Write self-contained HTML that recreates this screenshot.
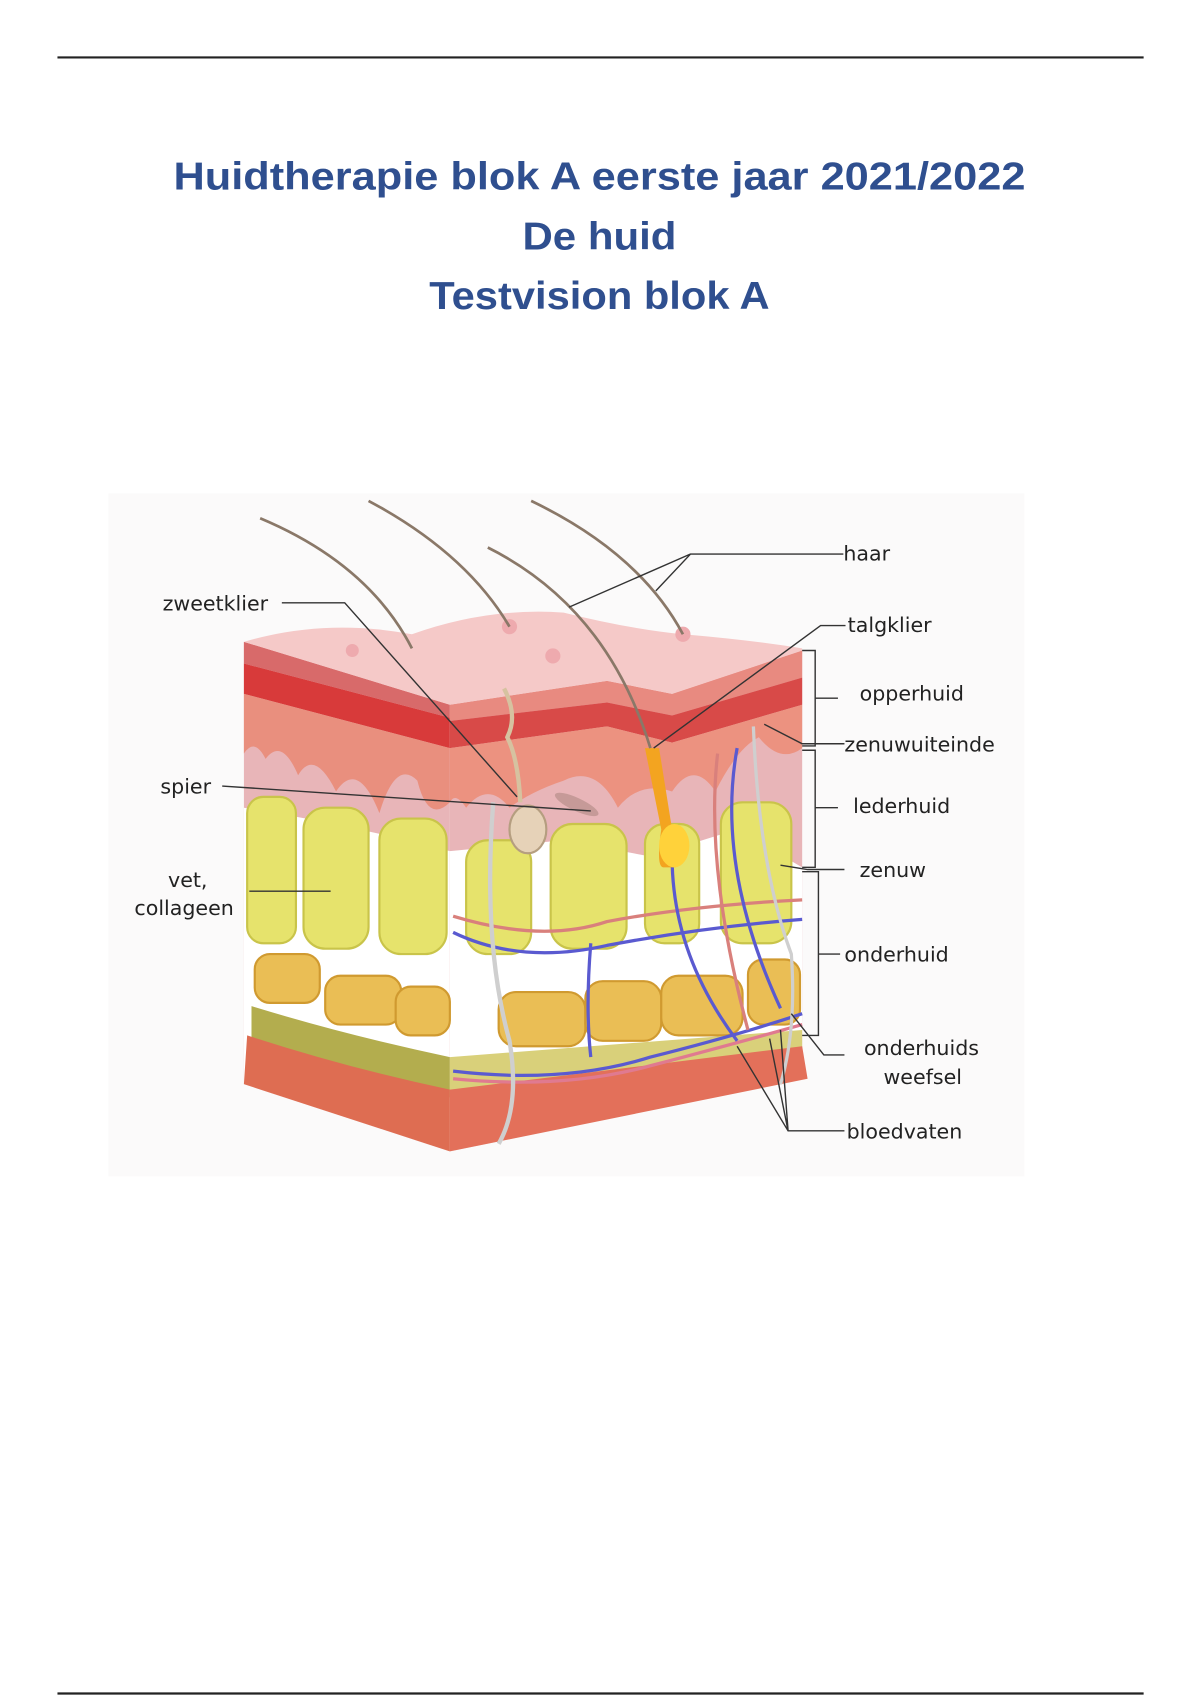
<!DOCTYPE html>
<html><head><meta charset="utf-8"><style>
html,body{margin:0;padding:0;background:#fff}
svg{display:block}
</style></head><body>
<svg width="1200" height="1700" viewBox="0 0 1107 1568" preserveAspectRatio="none" xmlns="http://www.w3.org/2000/svg">
<rect width="1107" height="1568" fill="#fff"/>
<line x1="53" y1="53" x2="1055" y2="53" stroke="#222" stroke-width="2"/>
<line x1="53" y1="1562" x2="1055" y2="1562" stroke="#222" stroke-width="2"/>
<g font-family="Liberation Sans, DejaVu Sans, sans-serif" font-weight="bold" fill="#2f4f8f" text-anchor="middle" font-size="36">
<text x="553" y="175" textLength="786" lengthAdjust="spacingAndGlyphs">Huidtherapie blok A eerste jaar 2021/2022</text>
<text x="553" y="230" textLength="142" lengthAdjust="spacingAndGlyphs">De huid</text>
<text x="553" y="285" textLength="314" lengthAdjust="spacingAndGlyphs">Testvision blok A</text>
</g>
<rect x="100" y="455" width="845" height="630" fill="#fbfafa"/>
<!-- left face -->
<polygon points="225,592 415,650 415,1062 225,1000" fill="#e8b5b8"/>
<path d="M225,745 Q320,760 415,785 L415,1062 L225,1000Z" fill="#ffffff"/>
<path d="M225,612 L415,662 L415,690 L225,640Z" fill="#d83a3a"/>
<path d="M225,592 L415,650 L415,662 L225,612Z" fill="#d86a6a"/>
<path d="M225,640 L415,690 L415,740 Q395,760 385,720 Q365,700 350,750 Q330,700 310,730 Q290,690 275,715 Q260,680 245,700 Q235,680 225,695Z" fill="#e98f7e"/>
<!-- right face -->
<polygon points="415,650 560,628 620,640 740,600 740,995 415,1062" fill="#e8b5b8"/>
<path d="M415,785 L520,775 L600,790 L680,765 L740,800 L740,995 L415,1062Z" fill="#ffffff"/>
<path d="M415,650 L560,628 L620,640 L740,600 L740,625 L620,660 L560,648 L415,665Z" fill="#e88a80"/>
<path d="M415,665 L560,648 L620,660 L740,625 L740,650 L620,685 L560,670 L415,690Z" fill="#d84a48"/>
<path d="M415,690 L560,670 L620,685 L740,650 L740,690 Q720,705 700,680 Q680,690 660,730 Q640,700 620,730 Q590,720 570,745 Q550,705 520,720 Q490,730 470,745 Q450,720 430,745 Q420,730 415,740Z" fill="#ec9280"/>
<!-- top surface -->
<path d="M225,592 Q300,570 380,585 Q450,560 520,565 Q580,580 630,585 Q690,590 740,598 L740,600 L620,640 L560,628 L415,650Z" fill="#f5c9c8"/>
<circle cx="325" cy="600" r="6" fill="#eeaaae"/><circle cx="470" cy="578" r="7" fill="#eeaaae"/><circle cx="510" cy="605" r="7" fill="#eeaaae"/><circle cx="630" cy="585" r="7" fill="#eeaaae"/>
<!-- fat columns -->
<g fill="#e6e36c" stroke="#c9c44a" stroke-width="2">
<rect x="228" y="735" width="45" height="135" rx="15"/>
<rect x="280" y="745" width="60" height="130" rx="20"/>
<rect x="350" y="755" width="62" height="125" rx="20"/>
<rect x="430" y="775" width="60" height="105" rx="20"/>
<rect x="508" y="760" width="70" height="115" rx="20"/>
<rect x="595" y="760" width="50" height="110" rx="18"/>
<rect x="665" y="740" width="65" height="130" rx="20"/>
</g>
<g fill="#eabe55" stroke="#d09a30" stroke-width="2">
<rect x="235" y="880" width="60" height="45" rx="14"/>
<rect x="300" y="900" width="70" height="45" rx="14"/>
<rect x="365" y="910" width="50" height="45" rx="14"/>
<rect x="460" y="915" width="80" height="50" rx="16"/>
<rect x="540" y="905" width="70" height="55" rx="16"/>
<rect x="610" y="900" width="75" height="55" rx="16"/>
<rect x="690" y="885" width="48" height="60" rx="14"/>
</g>
<path d="M232,928 Q320,955 415,975 L415,1012 Q320,990 232,965Z" fill="#b3ad4e"/>
<path d="M415,975 L740,950 L740,985 L415,1012Z" fill="#d9d07a"/>
<!-- muscle -->
<path d="M228,955 Q320,985 415,1005 L415,1062 L225,1000Z" fill="#de6d52"/>
<path d="M415,1005 L740,965 L745,995 L415,1062Z" fill="#e3705a"/>
<!-- vessels -->
<g fill="none" stroke-width="3">
<path d="M418,845 Q500,870 560,850 Q640,835 740,830" stroke="#d9807c"/>
<path d="M418,860 Q480,890 560,872 Q650,855 740,848" stroke="#5a5ad0"/>
<path d="M418,988 Q520,1000 600,975 Q680,955 740,935" stroke="#5a5ad0"/>
<path d="M418,995 Q520,1005 600,983 Q680,962 740,945" stroke="#e07a90"/>
<path d="M545,870 Q540,930 545,975" stroke="#5a5ad0"/>
<path d="M620,790 Q620,880 680,960" stroke="#5a5ad0"/>
<path d="M680,690 Q660,800 720,930" stroke="#5a5ad0"/>
<path d="M662,695 Q650,800 690,950" stroke="#d9807c"/>
<path d="M455,740 Q445,870 470,960 Q480,1020 460,1055" stroke="#cfcfcf" stroke-width="4"/>
<path d="M695,670 Q700,800 730,880 Q735,950 720,1000" stroke="#cfcfcf"/>
</g>
<!-- sweat gland -->
<path d="M465,635 Q478,660 468,680 Q478,700 480,740" fill="none" stroke="#d6c2a0" stroke-width="4"/>
<ellipse cx="487" cy="765" rx="17" ry="22" fill="#e6d2b8" stroke="#b59e80" stroke-width="2"/>
<ellipse cx="532" cy="742" rx="22" ry="6" fill="#c69a98" transform="rotate(25 532 742)"/>
<!-- follicle -->
<path d="M595,690 L608,690 L620,765 Q635,800 622,800 L612,800 Q605,800 610,765Z" fill="#f3a420"/>
<ellipse cx="622" cy="780" rx="14" ry="20" fill="#ffd23a"/>
<!-- hairs -->
<g fill="none" stroke="#8a7868" stroke-width="2.5">
<path d="M240,478 Q340,520 380,598"/>
<path d="M340,462 Q430,510 470,578"/>
<path d="M450,505 Q560,560 600,690"/>
<path d="M490,462 Q590,510 630,585"/>
</g>
<!-- leaders -->
<g fill="none" stroke="#333" stroke-width="1.3">
<path d="M778,511 L637,511 L605,545 M637,511 L525,560"/>
<path d="M260,556 L318,556 L477,735"/>
<path d="M780,577 L757,577 L603,690"/>
<path d="M740,600 L752,600 L752,688 L740,688 M752,644 L773,644"/>
<path d="M740,692 L752,692 L752,800 L740,800 M752,745 L773,745"/>
<path d="M740,804 L755,804 L755,955 L740,955 M755,880 L775,880"/>
<path d="M779,686 L740,686 L705,668"/>
<path d="M779,802 L745,802 L720,798"/>
<path d="M205,725 L545,748"/>
<path d="M230,822 L305,822"/>
<path d="M779,973 L760,973 L730,935"/>
<path d="M779,1043 L727,1043 L680,965 M727,1043 L710,958 M727,1043 L720,950"/>
</g>
<g font-family="DejaVu Sans, Liberation Sans, sans-serif" font-size="19" fill="#222">
<text x="778" y="517">haar</text>
<text x="782" y="583">talgklier</text>
<text x="793" y="646">opperhuid</text>
<text x="779" y="693">zenuwuiteinde</text>
<text x="787" y="750">lederhuid</text>
<text x="793" y="809">zenuw</text>
<text x="779" y="887">onderhuid</text>
<text x="797" y="973">onderhuids</text>
<text x="815" y="1000">weefsel</text>
<text x="781" y="1050">bloedvaten</text>
<text x="150" y="563">zweetklier</text>
<text x="148" y="732">spier</text>
<text x="155" y="818">vet,</text>
<text x="124" y="844">collageen</text>
</g>
</svg>
</body></html>
